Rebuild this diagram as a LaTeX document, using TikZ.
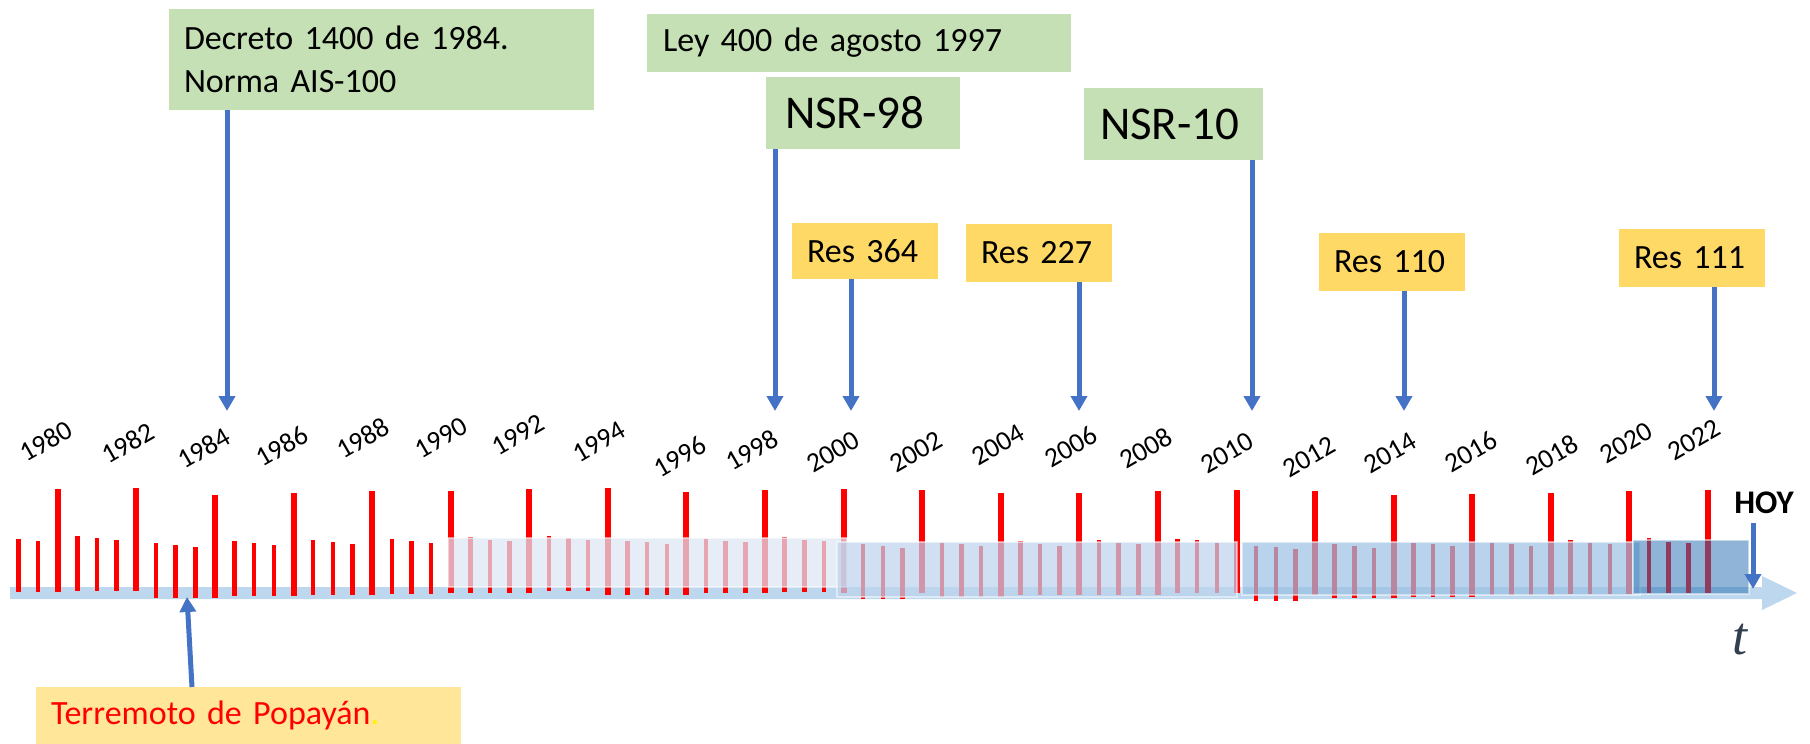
\documentclass[tikz,border=0pt]{standalone}
\usepackage{fontspec}
\setmainfont{Carlito}
\newfontfamily\serifa{Liberation Serif}
\usetikzlibrary{arrows.meta}
\definecolor{verde}{RGB}{197,224,180}
\definecolor{amarillo}{RGB}{255,217,102}
\definecolor{amarilloclaro}{RGB}{255,230,153}
\definecolor{azul}{RGB}{68,114,196}
\definecolor{eje}{RGB}{189,215,238}
\definecolor{capauno}{RGB}{221,230,244}
\definecolor{capados}{RGB}{189,211,237}
\definecolor{capatres}{RGB}{154,193,227}
\definecolor{capacuatro}{RGB}{43,113,179}
\definecolor{tinta}{RGB}{50,63,79}
\tikzset{
	flecha/.style={draw=azul, line width=5pt, -{Triangle[width=16pt,length=15pt]}},
	caja/.style={anchor=north west, align=left, inner ysep=0pt, outer sep=0pt},
	capa/.style={draw=white, draw opacity=0.5, line width=1.5pt}
}
\def\barra(#1:#2:#3){\pgfmathsetmacro\w{mod(#1,4)==2 ? 3 : 2.25}
	\fill[red] ({18.5+19.645*#1-\w},#2) rectangle ({18.5+19.645*#1+\w},#3);}

\begin{document}
\begin{tikzpicture}[x=1pt,y=-1pt]
			%%%%% START %%%%%
			\useasboundingbox (0,0) rectangle (1810,744);
			
			% eje del tiempo
			\fill[eje] (10,587) -- (1762,587) -- (1762,576) -- (1797,593) -- (1762,610) -- (1762,599) -- (10,599) -- cycle;
			
			% barras
			\foreach \k/\t/\b in {0/539/592, 1/541/592, 2/489/592, 3/536/591, 4/538/591, 5/540/591, 6/488/591,
				7/543/598, 8/545/598, 9/547/598, 10/495/598, 11/541/596, 12/543/596, 13/545/596, 14/493/596,
				15/540/595, 16/542/595, 17/544/595, 18/491/595, 19/539/594, 20/541/594, 21/543/594, 22/491/593,
				23/537/593, 24/540/593, 25/541/593, 26/489/593, 27/536/591, 28/538/591, 29/540/591, 30/488/595,
				31/541/595, 32/542/595, 33/544/595, 34/492/595, 35/539/593, 36/541/593, 37/542/593, 38/490/593,
				39/537/592, 40/540/592, 41/541/592, 42/489/593, 43/544/599, 44/546/599, 45/548/599, 46/490/593,
				47/543/597, 48/544/597, 49/546/597, 50/493/597, 51/541/595, 52/544/595, 53/546/595, 54/493/595,
				55/540/595, 56/543/595, 57/544/595, 58/491/595, 59/539/593, 60/540/593, 61/543/593, 62/490/593,
				63/546/601, 64/547/601, 65/549/601, 66/491/595, 67/544/598, 68/546/598, 69/548/598, 70/495/598,
				71/543/597, 72/544/597, 73/546/597, 74/494/597, 75/543/595, 76/544/595, 77/546/595, 78/493/595,
				79/540/594, 80/543/594, 81/544/594, 82/491/594, 83/538/593, 84/542/593, 85/543/593, 86/490/593}
			{\barra(\k:\t:\b)}
			
			% periodos
			\draw[capa, fill=capauno, fill opacity=0.72] (448,538) rectangle (847,587);
			\draw[capa, fill=capados, fill opacity=0.71] (837,542) rectangle (1237,597);
			\draw[capa, fill=capatres, fill opacity=0.70] (1242,542) rectangle (1640,595);
			\draw[capa, fill=capacuatro, fill opacity=0.53] (1633,540) rectangle (1749,594);
			
			% anios
			\foreach \a/\x/\y in {1980/46/441, 1982/128/443, 1984/204/448, 1986/282/446, 1988/363/438,
				1990/441/438, 1992/518/435, 1994/599/442, 1996/680/457, 1998/752/450, 2000/833/452,
				2002/916/452, 2004/998/445, 2006/1071/447, 2008/1146/448, 2010/1227/453, 2012/1309/457,
				2014/1390/453, 2016/1471/452, 2018/1552/455, 2020/1626/443, 2022/1694/440}
			\node[rotate=30, inner sep=0pt, font=\fontsize{27.5}{27.5}\selectfont] (y\a) at (\x,\y) {\a};
			
			% normas
			\node[caja, fill=verde, inner xsep=15pt, text width=395pt, minimum height=101pt,
				font=\fontsize{34}{43.4}\selectfont] (decreto) at (169,9) {Decreto 1400 de 1984.\\Norma AIS-100};
			\node[caja, fill=verde, inner xsep=16pt, text width=392pt, minimum height=58pt,
				font=\fontsize{34}{40}\selectfont] (ley) at (647,14) {Ley 400 de agosto 1997};
			\node[caja, fill=verde, inner xsep=19pt, text width=156pt, minimum height=72pt,
				font=\fontsize{47}{50}\selectfont] (nsr98) at (766,77) {NSR-98};
			\node[caja, fill=verde, inner xsep=16pt, text width=147pt, minimum height=72pt,
				font=\fontsize{47}{50}\selectfont] (nsr10) at (1084,88) {NSR-10};
			
			% resoluciones
			\node[caja, fill=amarillo, inner xsep=15pt, text width=116pt, minimum height=56pt,
				font=\fontsize{34}{40}\selectfont] (res364) at (792,223) {Res 364};
			\node[caja, fill=amarillo, inner xsep=15pt, text width=116pt, minimum height=58pt,
				font=\fontsize{34}{40}\selectfont] (res227) at (966,224) {Res 227};
			\node[caja, fill=amarillo, inner xsep=15pt, text width=116pt, minimum height=58pt,
				font=\fontsize{34}{40}\selectfont] (res110) at (1319,233) {Res 110};
			\node[caja, fill=amarillo, inner xsep=15pt, text width=116pt, minimum height=58pt,
				font=\fontsize{34}{40}\selectfont] (res111) at (1619,229) {Res 111};
			
			\coordinate (t84) at (227,411);
			\coordinate (t98) at (775,411);
			\coordinate (t00) at (851,411);
			\coordinate (t06) at (1079,411);
			\coordinate (t10) at (1252,411);
			\coordinate (t14) at (1404,411);
			\coordinate (t22) at (1714,411);
			\draw[flecha] (decreto.south -| t84) -- (t84);
			\draw[flecha] (nsr98.south -| t98) -- (t98);
			\draw[flecha] (res364.south -| t00) -- (t00);
			\draw[flecha] (res227.south -| t06) -- (t06);
			\draw[flecha] (nsr10.south -| t10) -- (t10);
			\draw[flecha] (res110.south -| t14) -- (t14);
			\draw[flecha] (res111.south -| t22) -- (t22);
			
			% terremoto
			\node[caja, fill=amarilloclaro, inner xsep=15pt, text width=395pt, minimum height=57pt,
				font=\fontsize{34}{40}\selectfont] (terremoto) at (36,687) {\textcolor{red}{Terremoto de Popayán}\textcolor{yellow}{.}};
			\coordinate (t83) at (187,597);
			\draw[flecha] ([xshift=-56.5pt]terremoto.north) -- (t83);
			
			% hoy
			\node[anchor=base, inner sep=3pt, font=\bfseries\fontsize{33}{33}\selectfont] (hoy) at (1764,513) {HOY};
			\coordinate (thoy) at (1753,589);
			\draw[flecha] ([yshift=-7pt]hoy.south -| thoy) -- (thoy);
			
			\node[text=tinta, font=\serifa\itshape\fontsize{54}{54}\selectfont] (tiempo) at (1740,640) {t};
			%%%%% END %%%%%
\end{tikzpicture}
\end{document}
